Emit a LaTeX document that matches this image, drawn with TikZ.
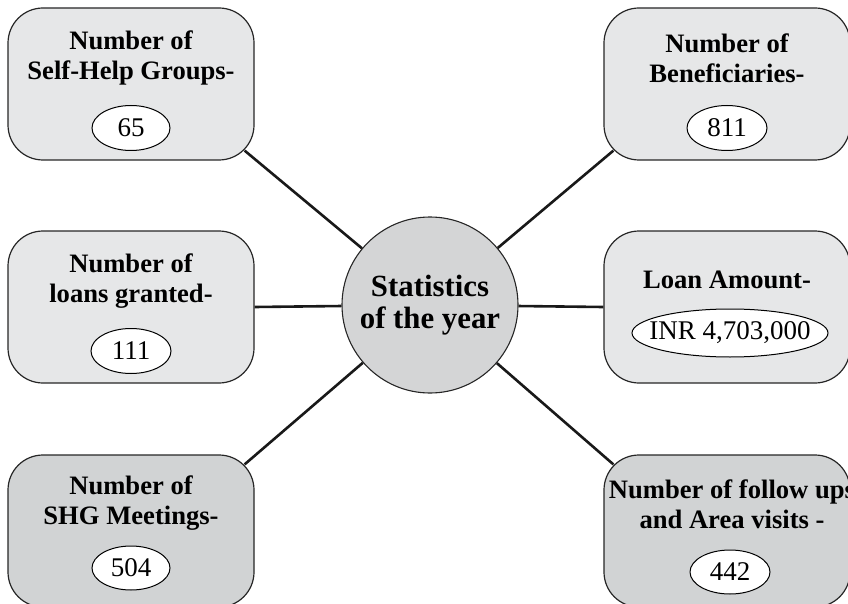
\documentclass[tikz,border=0pt]{standalone}
\usepackage{fontspec}
\setmainfont{Liberation Serif}
\usetikzlibrary{calc,shapes.geometric}
\definecolor{boxlight}{HTML}{E6E7E8}
\definecolor{boxdark}{HTML}{D1D3D4}
\definecolor{hubfill}{HTML}{D4D5D6}
\begin{document}
\begin{tikzpicture}[x=1pt,y=-1pt,
  statbox/.style={draw=black!85, line width=1.2pt, rounded corners=35pt, minimum width=246pt, minimum height=152pt, inner sep=0pt},
  lightbox/.style={statbox, fill=boxlight},
  darkbox/.style={statbox, fill=boxdark},
  boxlabel/.style={align=center, font=\bfseries\fontsize{26.6}{30}\selectfont, inner sep=0pt},
  valoval/.style={draw=black, line width=1pt, ellipse, fill=white, inner sep=0pt, font=\fontsize{27}{30}\selectfont},
  hub/.style={draw=black!85, line width=1.1pt, circle, fill=hubfill, minimum size=176pt, inner sep=0pt, align=center, font=\bfseries\fontsize{30.8}{32}\selectfont},
  link/.style={line width=2.6pt, black!90}
]
\useasboundingbox (0,0) rectangle (848,604);
\clip (0,0) rectangle (848,604);
% boxes
\node[lightbox] (tl) at (131,84) {};
\node[lightbox] (tr) at (727,84) {};
\node[lightbox] (ml) at (131,307) {};
\node[lightbox] (mr) at (727,307) {};
\node[darkbox] (bl) at (131,531) {};
\node[darkbox] (br) at (727,531) {};
% hub
\node[hub] (c) at (430,305) {Statistics\\of the year};
% connectors
\draw[link] ($(tl.south east)+(-10,-10)$) -- (c);
\draw[link] ($(tr.south west)+(10,-10)$) -- (c);
\draw[link] (ml.east) -- (c);
\draw[link] (mr.west) -- (c);
\draw[link] ($(bl.north east)+(-10,10)$) -- (c);
\draw[link] ($(br.north west)+(10,10)$) -- (c);
% labels
\node[boxlabel] (tlt) at (131,58) {Number of\\Self-Help Groups-};
\node[boxlabel] (trt) at (727,58) {Number of\\Beneficiaries-};
\node[boxlabel] (mlt) at (131,281) {Number of\\loans granted-};
\node[boxlabel] (mrt) at (727,280) {Loan Amount-};
\node[boxlabel] (blt) at (131,503) {Number of\\SHG Meetings-};
\node[boxlabel] (brt) at (732,504) {Number of follow ups\\and Area visits -};
% values
\node[valoval, minimum width=78pt, minimum height=45pt] (tlv) at (131,128) {65};
\node[valoval, minimum width=80pt, minimum height=45pt] (trv) at (727,128) {811};
\node[valoval, minimum width=80pt, minimum height=45pt] (mlv) at (131,351) {111};
\node[valoval, inner xsep=-12pt, minimum width=196pt, minimum height=48pt] (mrv) at (730,333) {INR 4,703,000};
\node[valoval, minimum width=78pt, minimum height=44pt] (blv) at (131,568) {504};
\node[valoval, minimum width=80pt, minimum height=44pt] (brv) at (730,572) {442};
\end{tikzpicture}
\end{document}
